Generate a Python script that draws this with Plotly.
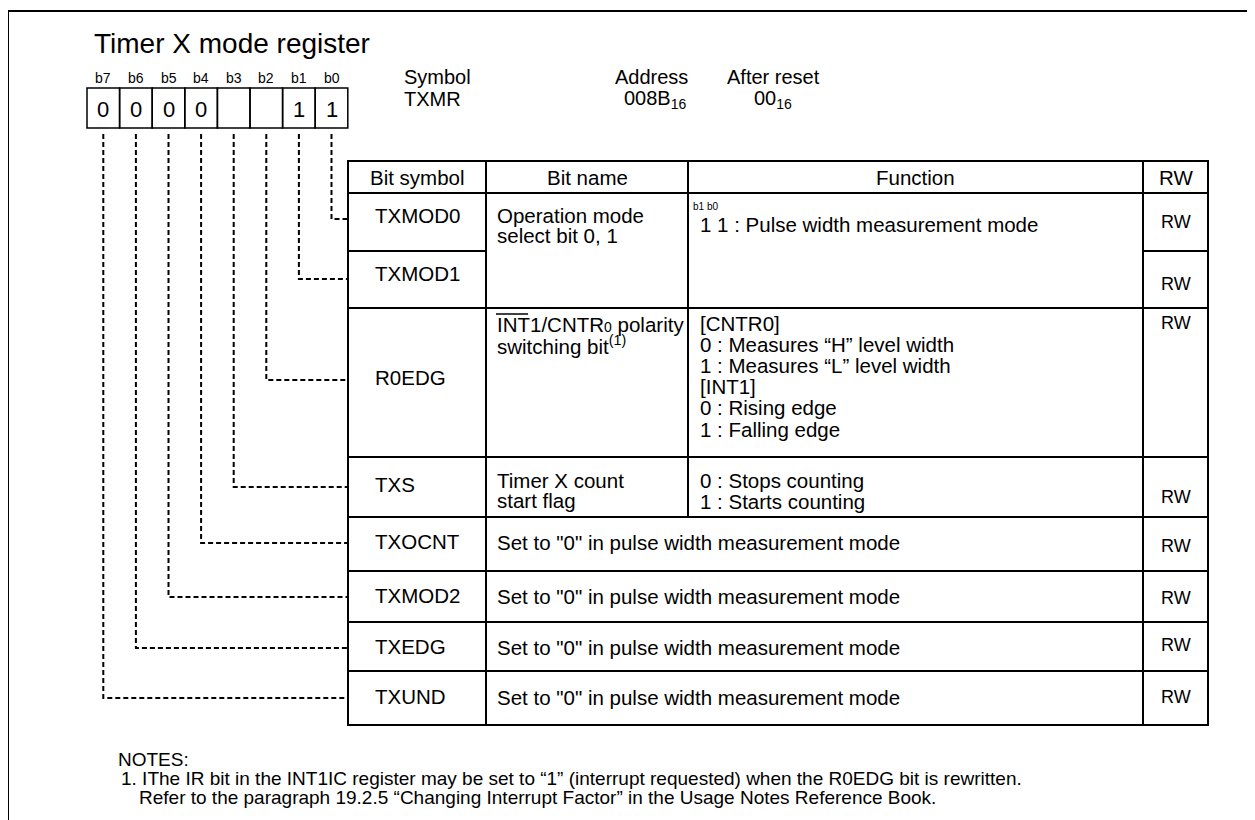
import plotly.graph_objects as go

# ---------------- data ----------------
title = "Timer X mode register"
bit_labels = ["b7", "b6", "b5", "b4", "b3", "b2", "b1", "b0"]
bit_values = ["0", "0", "0", "0", "", "", "1", "1"]
info_heads = ["Symbol", "Address", "After reset"]
info_values = ["TXMR", "008B<sub>16</sub>", "00<sub>16</sub>"]

headers = ["Bit symbol", "Bit name", "Function", "RW"]
bit_symbols = ["TXMOD0", "TXMOD1", "R0EDG", "TXS", "TXOCNT", "TXMOD2", "TXEDG", "TXUND"]
bit_names = [
    ["Operation mode", "select bit 0, 1"],
    [],
    ['INT1/CNTR<span style="font-size:14px">0</span> polarity',
     "switching bit<sup>(1)</sup>"],
    ["Timer X count", "start flag"],
    ['Set to "0" in pulse width measurement mode'],
    ['Set to "0" in pulse width measurement mode'],
    ['Set to "0" in pulse width measurement mode'],
    ['Set to "0" in pulse width measurement mode'],
]
functions = [
    ["1 1 : Pulse width measurement mode"],
    [],
    ["[CNTR0]", "0 : Measures \u201cH\u201d level width", "1 : Measures \u201cL\u201d level width",
     "[INT1]", "0 : Rising edge", "1 : Falling edge"],
    ["0 : Stops counting", "1 : Starts counting"],
    [], [], [], [],
]
func_small_head = "b1 b0"
rw = ["RW"] * 8
row_bit = ["b0", "b1", "b2", "b3", "b4", "b5", "b6", "b7"]

notes = [
    "NOTES:",
    "1. IThe IR bit in the INT1IC register may be set to \u201c1\u201d (interrupt requested) when the R0EDG bit is rewritten.",
    "Refer to the paragraph 19.2.5 \u201cChanging Interrupt Factor\u201d in the Usage Notes Reference Book.",
]

# ---------------- layout constants (page pixels) ----------------
W, H = 1255, 820
OFF = 8  # default page body margin
FONT = "Arial, 'Liberation Sans', sans-serif"
FS = 20.5
BOX_X0, BOX_W, BOX_Y0, BOX_Y1 = 87, 32.6, 88, 128
COLX = [348, 486, 688, 1143, 1208]
ROWY = [161, 193, 251, 308, 457, 517, 571, 622, 671, 725]
CONN_Y = [219, 279, 380, 487, 543, 597, 648, 698]
SYM_X = 373
SYM_Y = [215, 273, 377, 484, 541, 595, 646, 696]
RW_Y = [222, 284, 323, 497, 546, 598, 645, 697]
NAME_Y0 = [215, None, 324, 480, 542, 596, 647, 697]
FUNC_Y0 = [224, None, 323, 480, None, None, None, None]
NAME_SP = [20, 0, 20.5, 20, 0, 0, 0, 0]
FUNC_SP = 21.2

fig = go.Figure()
shapes = []
ann = []


def text(x, y, s, size=FS, xa="left", ya="middle"):
    ann.append(dict(x=x, y=y, xref="x", yref="y", text=s, showarrow=False,
                    xanchor=xa, yanchor=ya, font=dict(family=FONT, size=size, color="black")))


def line(x0, y0, x1, y1, w=2, dash=None):
    d = dict(type="line", xref="x", yref="y", x0=x0, y0=y0, x1=x1, y1=y1,
             line=dict(color="black", width=w))
    if dash:
        d["line"]["dash"] = dash
    shapes.append(d)


# outer frame (runs off right and bottom edges)
shapes.append(dict(type="rect", xref="x", yref="y", x0=8, y0=11, x1=1300, y1=900,
                   line=dict(color="black", width=2)))

# title
text(92, 43, title, size=28)

# register bit boxes
for i, (lab, val) in enumerate(zip(bit_labels, bit_values)):
    x0 = BOX_X0 + i * BOX_W
    cx = x0 + BOX_W / 2
    shapes.append(dict(type="rect", xref="x", yref="y", x0=x0, y0=BOX_Y0, x1=x0 + BOX_W, y1=BOX_Y1,
                       line=dict(color="black", width=1.5)))
    text(cx, 78, lab, size=14, xa="center")
    if val:
        text(cx, 109, val, size=22, xa="center")

# symbol / address / after reset
info_x = [(402, 402), (613, 622), (725, 752)]
for (hx, vx), h, v in zip(info_x, info_heads, info_values):
    text(hx, 77, h, size=20)
    text(vx, 99, v, size=20)

# table grid
L, C1, C2, C3, R = COLX
shapes.append(dict(type="rect", xref="x", yref="y", x0=L, y0=ROWY[0], x1=R, y1=ROWY[-1],
                   line=dict(color="black", width=2)))
line(C1, ROWY[0], C1, ROWY[-1])
line(C2, ROWY[0], C2, ROWY[5])
line(C3, ROWY[0], C3, ROWY[-1])
for k, y in enumerate(ROWY[1:-1], start=1):
    if k == 2:  # TXMOD0 / TXMOD1 split only in symbol and RW columns
        line(L, y, C1, y)
        line(C3, y, R, y)
    else:
        line(L, y, R, y)

# header
hy = (ROWY[0] + ROWY[1]) / 2
for x0, x1, h in zip(COLX[:-1], COLX[1:], headers):
    text((x0 + x1) / 2, hy, h, size=FS, xa="center")

# rows
for r, sym in enumerate(bit_symbols):
    text(SYM_X, SYM_Y[r], sym)
    text((C3 + R) / 2, RW_Y[r], rw[r], size=18, xa="center")
    for j, s in enumerate(bit_names[r]):
        text(C1 + 9, NAME_Y0[r] + j * NAME_SP[r], s)
    for j, s in enumerate(functions[r]):
        text(C2 + 10, FUNC_Y0[r] + j * FUNC_SP, s)
text(C2 + 3, 206, func_small_head, size=10)
# overline over "INT" (active-low signal name)
line(C1 + 10, NAME_Y0[2] - 10, C1 + 42, NAME_Y0[2] - 10, w=1.5)

# dashed connectors from bit boxes to table rows
for r, b in enumerate(row_bit):
    i = bit_labels.index(b)
    cx = BOX_X0 + i * BOX_W + BOX_W / 2
    shapes.append(dict(type="path", xref="x", yref="y",
                       path=f"M {cx},{BOX_Y1 + 6} L {cx},{CONN_Y[r]} L {L},{CONN_Y[r]}",
                       line=dict(color="black", width=2, dash="5px,3px")))

# notes
text(116, 759, notes[0], size=19)
text(119, 778, notes[1], size=19)
text(137, 797, notes[2], size=19)

fig.update_layout(
    width=W, height=H,
    margin=dict(l=0, r=0, t=0, b=0),
    paper_bgcolor="white", plot_bgcolor="white",
    xaxis=dict(range=[OFF, W + OFF], visible=False, fixedrange=True),
    yaxis=dict(range=[H + OFF, OFF], visible=False, fixedrange=True),
    shapes=shapes, annotations=ann, showlegend=False,
)
fig.write_html("out.html")
